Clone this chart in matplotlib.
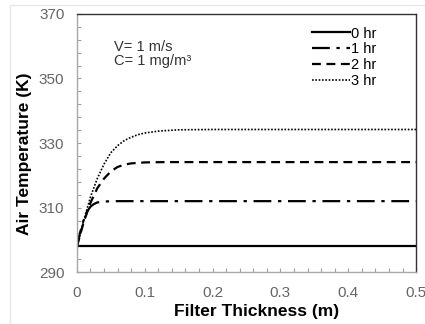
import numpy as np
import matplotlib
matplotlib.use('Agg')
import matplotlib.pyplot as plt
from matplotlib.ticker import FixedLocator
from matplotlib.patches import Rectangle

plt.rcParams['font.family'] = ['Liberation Sans', 'DejaVu Sans']

# valores
x_0hr = [0, 0.5]
t_0hr = [298, 298]

x_1hr = [0, 0.005, 0.01, 0.015, 0.02, 0.025, 0.03, 0.04, 0.06, 0.1, 0.5]
t_1hr = [298, 302.5, 306.2, 308.8, 310.3, 311.1, 311.6, 311.9, 312, 312, 312]

x_2hr = [0, 0.01, 0.02, 0.03, 0.04, 0.05, 0.06, 0.07, 0.08, 0.1, 0.13, 0.5]
t_2hr = [298, 305.5, 311.5, 316, 319, 321.2, 322.6, 323.3, 323.7, 324, 324.1, 324.1]

x_3hr = [0, 0.01, 0.02, 0.03, 0.04, 0.05, 0.06, 0.07, 0.08, 0.09, 0.1, 0.12, 0.15, 0.2, 0.5]
t_3hr = [298, 306, 313.3, 319, 323.5, 327, 329.2, 330.8, 331.8, 332.6, 333.1, 333.7, 334.1, 334.2, 334.2]

rotulos = ['0 hr', '1 hr', '2 hr', '3 hr']
xticks = [0, 0.1, 0.2, 0.3, 0.4, 0.5]
xtick_labels = ['0', '0.1', '0.2', '0.3', '0.4', '0.5']
yticks = [290, 310, 330, 350, 370]

fig = plt.figure(figsize=(4.25, 3.24), dpi=100)
ax = fig.add_axes([0.181, 0.160, 0.798, 0.797])

# moldura clara da captura
fig.patches.append(Rectangle((10 / 425, -0.1), 1.2, (324 - 5) / 324 + 0.1,
                             transform=fig.transFigure, fill=False,
                             edgecolor='#e6e6e6', linewidth=1.0))

ax.plot(x_0hr, t_0hr, color='black', linewidth=1.6, linestyle='-', label=rotulos[0])
ax.plot(x_1hr, t_1hr, color='black', linewidth=1.6, linestyle=(0, (8, 3, 1.5, 3)), label=rotulos[1])
ax.plot(x_2hr, t_2hr, color='black', linewidth=1.6, linestyle=(0, (4, 2.5)), label=rotulos[2])
ax.plot(x_3hr, t_3hr, color='black', linewidth=1.2, linestyle=(0, (1, 1)), label=rotulos[3])

ax.set_xlim(0, 0.5)
ax.set_ylim(290, 370)
ax.set_xticks(xticks)
ax.set_xticklabels(xtick_labels)
ax.set_yticks(yticks)
ax.xaxis.set_minor_locator(FixedLocator(np.arange(0, 0.5001, 0.02)))
ax.yaxis.set_minor_locator(FixedLocator(np.arange(290, 370.1, 4)))

ax.tick_params(which='both', direction='in', length=3, width=0.8, color='#a0a0a0',
               labelsize=11, labelcolor='#666666', top=False, right=False)
ax.tick_params(axis='y', pad=9)
ax.tick_params(axis='x', pad=10)

for lado in ['left', 'bottom']:
    ax.spines[lado].set_color('#a8a8a8')
    ax.spines[lado].set_linewidth(1.0)
for lado in ['top', 'right']:
    ax.spines[lado].set_color('#333333')
    ax.spines[lado].set_linewidth(1.0)

ax.set_xlabel('Filter Thickness (m)', fontsize=12.5, fontweight='bold')
ax.xaxis.set_label_coords(0.53, -0.125)
ax.set_ylabel('Air Temperature (K)', fontsize=12.5, fontweight='bold')
ax.yaxis.set_label_coords(-0.133, 0.46)

ax.text(0.11, 0.90, 'V= 1 m/s\nC= 1 mg/m³', transform=ax.transAxes,
        fontsize=10.5, color='#333333', va='top', ha='left', linespacing=1.05)

ax.legend(loc='upper right', bbox_to_anchor=(0.91, 0.985), frameon=False, fontsize=10.5,
          handlelength=2.6, handletextpad=0.1, labelspacing=0.12, borderaxespad=0.2)

fig.savefig('out.png', dpi=100)
